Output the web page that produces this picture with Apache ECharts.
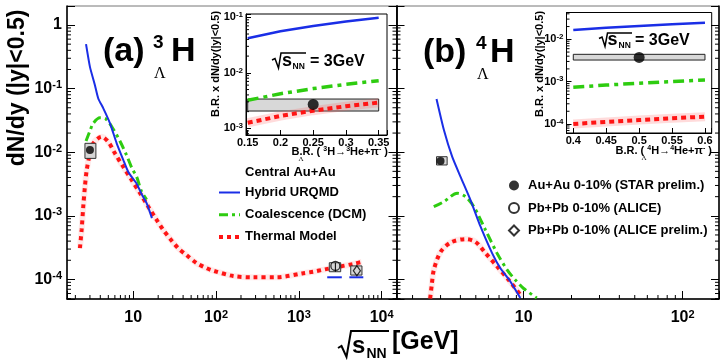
<!DOCTYPE html>
<html><head><meta charset="utf-8">
<script src="https://cdn.jsdelivr.net/npm/echarts@6/dist/echarts.min.js"></script>
<style>html,body{margin:0;padding:0;background:#fff}#c{width:722px;height:361px}</style>
</head><body><div id="c"></div>
<script>
// ---------------- DATA ----------------
// (a) hypertriton 3ΛH, central Au+Au, sqrt(s_NN) [GeV] vs dN/dy
const a_urqmd_s    = [2.69, 3.0, 3.44, 3.78, 4.35, 5.24, 6.31, 7.57, 8.71, 11.0, 12.6, 14.5, 16.8];
const a_urqmd_dndy = [0.50, 0.22, 0.114, 0.070, 0.049, 0.0285, 0.0138, 0.0076, 0.0049, 0.0032, 0.0022, 0.00158, 0.00092];
const a_urqmdLHC1_s = [2200, 3300];
const a_urqmdLHC2_s = [4070, 6000];
const a_urqmdLHC_dndy = [1.08e-4, 1.08e-4];
const a_dcm_s    = [2.69, 3.0, 3.29, 3.96, 4.68, 5.73, 6.9, 8.3, 9.65, 11.0, 12.6, 14.5];
const a_dcm_dndy = [0.015, 0.0216, 0.0285, 0.0348, 0.0333, 0.0232, 0.015, 0.0090, 0.0056, 0.0041, 0.0024, 0.0018];
const a_th_s    = [2.27, 2.38, 2.49, 2.61, 2.74, 3.0, 3.29, 4.15, 4.99, 6.01, 7.57, 9.57, 12.1, 15.2, 19.2, 23.0, 27.7, 34.9, 44.1, 58.3, 76.9, 92.5, 161, 281, 539, 1130, 1490, 2070, 2860, 4540, 5730];
const a_th_dndy = [3.1e-4, 6.0e-4, 1.39e-3, 2.9e-3, 5.2e-3, 9.6e-3, 1.38e-2, 1.75e-2, 1.46e-2, 9.6e-3, 5.9e-3, 3.66e-3, 2.26e-3, 1.39e-3, 8.6e-4, 6.0e-4, 4.4e-4, 3.1e-4, 2.4e-4, 1.8e-4, 1.5e-4, 1.37e-4, 1.13e-4, 1.08e-4, 1.08e-4, 1.25e-4, 1.32e-4, 1.44e-4, 1.56e-4, 1.75e-4, 1.88e-4];
const a_star  = [3.0, 0.0108];            // sqrt(s), dN/dy
const a_starSys = [2.61, 3.54, 0.0080, 0.0138]; // x lo, x hi, y lo, y hi
const a_alice = [2760, 1.63e-4];
const a_aliceSys = [2330, 3200, 1.32e-4, 1.83e-4];
const a_alicePre = [5020, 1.37e-4];
const a_alicePreSys = [4230, 5780, 1.17e-4, 1.63e-4];

// (b) 4ΛH
const b_urqmd_s    = [2.83, 3.15, 3.55, 4.01, 4.63, 5.35, 6.34, 7.14, 8.26, 9.53];
const b_urqmd_dndy = [0.0686, 0.0223, 0.0085, 0.0041, 0.00177, 6.8e-4, 2.57e-4, 1.5e-4, 9.2e-5, 5.1e-5];
const b_dcm_s    = [2.72, 3.15, 3.82, 4.31, 4.86, 5.75, 6.81, 7.87, 8.87, 10.0, 12.1];
const b_dcm_dndy = [0.00139, 0.00167, 0.00226, 0.0020, 0.00139, 6.0e-4, 2.57e-4, 1.41e-4, 9.8e-5, 7.2e-5, 5.1e-5];
const b_th_s    = [2.58, 2.64, 2.72, 3.0, 3.47, 4.31, 4.97, 5.75, 6.81, 8.05, 9.77];
const b_th_dndy = [5.0e-5, 8.1e-5, 1.4e-4, 2.7e-4, 3.8e-4, 4.3e-4, 3.9e-4, 2.6e-4, 1.6e-4, 9.8e-5, 5.3e-5];
const b_star = [3.0, 0.00728];
const b_starSys = [2.83, 3.3, 0.0063, 0.0085];

// insets: B.R. vs B.R. x dN/dy at 3 GeV
const ia_br      = [0.15, 0.20, 0.25, 0.30, 0.35];
const ia_urqmd   = [0.042, 0.056, 0.070, 0.084, 0.098];
const ia_dcm     = [0.0032, 0.0042, 0.0052, 0.0062, 0.0072];
const ia_th      = [0.00126, 0.00167, 0.00208, 0.0025, 0.0029];
const ia_band    = [0.15, 0.35, 0.00205, 0.00337];
const ia_star    = [0.25, 0.0027];
const ib_br      = [0.40, 0.45, 0.50, 0.55, 0.60];
const ib_urqmd   = [0.0166, 0.0187, 0.0207, 0.0228, 0.0247];
const ib_dcm     = [7.4e-4, 8.3e-4, 9.2e-4, 1.01e-3, 1.1e-3];
const ib_th      = [1.0e-4, 1.12e-4, 1.24e-4, 1.37e-4, 1.49e-4];
const ib_band    = [0.40, 0.60, 0.00324, 0.00442];
const ib_star    = [0.50, 0.00374];

// ---------------- STYLE / HELPERS ----------------
const FF = '"Liberation Sans", Arial, Helvetica, sans-serif';
const FSERIF = '"Liberation Serif", "DejaVu Serif", serif';
const BLUE = '#1a2ee6', GREEN = '#2ecc10', RED = '#ff1414', PINK = 'rgba(255,90,90,0.13)', PINKI = 'rgba(255,90,90,0.22)';
const lg = Math.log10;
const pLog = (xs, ys) => xs.map((x, i) => [lg(x), lg(ys[i])]);
const pLin = (xs, ys) => xs.map((x, i) => [x, lg(ys[i])]);
const R = {x0:[0.2,4.179], x1:[0.2,2.229], y:[-4.308,0.299], xa:[0.1474,0.3627], ya:[-3.12,-0.9405], xb:[0.3897,0.6102], yb:[-4.2125,-1.367]};

function logMinor(lo, hi){ const out=[]; for(let n=Math.floor(lo)-1;n<=Math.ceil(hi);n++){ for(let k=2;k<=9;k++){ const v=n+lg(k); if(v>lo+1e-6&&v<hi-1e-6) out.push(v);} } return out; }
function fmtLog(v){ const r=Math.round(v); if(Math.abs(v-r)>1e-6) return ''; if(r===0) return '{b|1}'; if(r===1) return '{b|10}'; return '{b|10}{s|'+(r<0?'-':'')+Math.abs(r)+'}'; }
function fmtLin(v){ if(Math.abs(v*20-Math.round(v*20))>1e-6) return ''; return String(+v.toFixed(2)); }
function rich(bs, ss){ return { b:{fontFamily:FF,fontWeight:'bold',fontSize:bs,color:'#000',lineHeight:bs+2}, s:{fontFamily:FF,fontWeight:'bold',fontSize:ss,color:'#000',lineHeight:Math.round(bs*0.35),verticalAlign:'top'} }; }

function line(name, xi, yi, data, color, width, type, z, smooth){
  return {type:'line', name, xAxisIndex:xi, yAxisIndex:yi, data, symbol:'none', smooth: smooth||0, z:z||3, silent:true, clip:true,
    lineStyle:{color, width, type:type||'solid', cap:'butt'}, itemStyle:{color}};
}
function ticks(xi, yi, dir, vals, anchor, len){
  return {type:'custom', xAxisIndex:xi, yAxisIndex:yi, silent:true, z:10, clip:false,
    data: vals.map(v => dir==='b' ? [v, anchor] : [anchor, v]),
    renderItem:(params, api)=>{ const p=api.coord([api.value(0), api.value(1)]); let x2=p[0], y2=p[1];
      if(dir==='b') y2-=len; else if(dir==='l') x2+=len; else x2-=len;
      return {type:'line', shape:{x1:p[0],y1:p[1],x2,y2}, style:{stroke:'#000',lineWidth:1}}; }};
}
function boxes(xi, yi, data, style, z){
  return {type:'custom', xAxisIndex:xi, yAxisIndex:yi, silent:true, z, data, encode:{x:[0,1], y:[2,3]},
    renderItem:(params, api)=>{ const p1=api.coord([api.value(0),api.value(3)]), p2=api.coord([api.value(1),api.value(2)]);
      return {type:'rect', shape:{x:p1[0],y:p1[1],width:p2[0]-p1[0],height:p2[1]-p1[1]}, style}; }};
}
const boxLog = b => [lg(b[0]), lg(b[1]), lg(b[2]), lg(b[3])];
const boxLin = b => [b[0], b[1], lg(b[2]), lg(b[3])];
const SYS = {fill:'#d6d6d6', stroke:'#333', lineWidth:1};

function xAx(grid, r, split, lab){
  return {gridIndex:grid, type:'value', min:r[0], max:r[1], splitNumber:split, splitLine:{show:false},
    axisLine:{onZero:false, lineStyle:{color:'#000', width:lab.w||1.5}}, axisTick:{inside:true, length:lab.tl, lineStyle:{color:'#000'}},
    axisLabel:{interval:0, formatter:lab.f, rich:lab.rich, margin:lab.m, fontFamily:FF, fontWeight:'bold', fontSize:lab.fs, color:'#000', hideOverlap:false}};
}
function yAx(grid, r, split, pos, lab){
  return {gridIndex:grid, type:'value', position:pos, min:r[0], max:r[1], splitNumber:split, splitLine:{show:false},
    axisLine:{show:true, onZero:false, lineStyle:{color:'#000', width:lab.w||1.5}}, axisTick:{inside:true, length:lab.tl, lineStyle:{color:'#000'}},
    axisLabel:{show:!!lab.f, interval:0, formatter:lab.f, rich:lab.rich, margin:lab.m, fontFamily:FF, fontWeight:'bold', fontSize:lab.fs, color:'#000', hideOverlap:false}};
}

const mainLab = {f:fmtLog, rich:rich(16,11), m:10, tl:8, fs:16};
const noLab = {tl:8};
const inLabX = {f:fmtLin, m:2, tl:5, fs:11, w:1};
const inLabY = {f:fmtLog, rich:rich(11,8), m:3, tl:5, fs:11, w:1};

const xAxis = [
  xAx(0, R.x0, 4, mainLab),
  xAx(1, R.x1, 2, mainLab),
  xAx(2, R.xa, 4, inLabX),
  xAx(3, R.xb, 4, inLabX)
];
const yAxis = [
  yAx(0, R.y, 5, 'left', {f:fmtLog, rich:rich(16,11), m:5, tl:8, fs:16}),
  yAx(0, R.y, 5, 'right', noLab),
  yAx(1, R.y, 5, 'left', noLab),
  yAx(1, R.y, 5, 'right', noLab),
  yAx(2, R.ya, 2, 'left', inLabY),
  yAx(3, R.yb, 3, 'left', inLabY)
];

const series = [];
// ---- (a) main ----
series.push(line('Thermal Model', 0, 0, pLog(a_th_s, a_th_dndy), RED, 4, [4,4], 3, 0.3));
series.push(line('thband', 0, 0, pLog(a_th_s, a_th_dndy), PINK, 6, 'solid', 2, 0.3));
series.push(line('Coalescence (DCM)', 0, 0, pLog(a_dcm_s, a_dcm_dndy), GREEN, 3, [9,4,3,4], 3, 0.3));
series.push(line('Hybrid URQMD', 0, 0, pLog(a_urqmd_s, a_urqmd_dndy), BLUE, 2, 'solid', 3, 0.2));
series.push(line('Hybrid URQMD', 0, 0, pLog(a_urqmdLHC1_s, a_urqmdLHC_dndy), BLUE, 2, 'solid', 3));
series.push(line('Hybrid URQMD', 0, 0, pLog(a_urqmdLHC2_s, a_urqmdLHC_dndy), BLUE, 2, 'solid', 3));
series.push(boxes(0, 0, [boxLog(a_starSys), boxLog(a_aliceSys), boxLog(a_alicePreSys)], SYS, 4));
series.push(line('err', 0, 0, [[lg(a_alice[0]), lg(a_aliceSys[2])],[lg(a_alice[0]), lg(a_aliceSys[3])]], '#000', 1, 'solid', 5));
series.push({type:'scatter', name:'Au+Au 0-10% (STAR prelim.)', xAxisIndex:0, yAxisIndex:0, data:[[lg(a_star[0]), lg(a_star[1])]], symbol:'circle', symbolSize:8, itemStyle:{color:'#000'}, z:6, silent:true});
series.push({type:'scatter', name:'Pb+Pb 0-10% (ALICE)', xAxisIndex:0, yAxisIndex:0, data:[[lg(a_alice[0]), lg(a_alice[1])]], symbol:'circle', symbolSize:9, itemStyle:{color:'rgba(0,0,0,0)', borderColor:'#000', borderWidth:1.3}, z:6, silent:true});
series.push({type:'scatter', name:'Pb+Pb 0-10% (ALICE prelim.)', xAxisIndex:0, yAxisIndex:0, data:[[lg(a_alicePre[0]), lg(a_alicePre[1])]], symbol:'diamond', symbolSize:[7,10], itemStyle:{color:'rgba(0,0,0,0)', borderColor:'#000', borderWidth:1.3}, z:6, silent:true});
// ---- (b) main ----
series.push(line('thband', 1, 2, pLog(b_th_s, b_th_dndy), PINK, 6, 'solid', 2, 0.3));
series.push(line('Thermal Model', 1, 2, pLog(b_th_s, b_th_dndy), RED, 4, [4,4], 3, 0.3));
series.push(line('Coalescence (DCM)', 1, 2, pLog(b_dcm_s, b_dcm_dndy), GREEN, 3, [9,4,3,4], 3, 0.3));
series.push(line('Hybrid URQMD', 1, 2, pLog(b_urqmd_s, b_urqmd_dndy), BLUE, 2, 'solid', 3, 0.2));
series.push(boxes(1, 2, [boxLog(b_starSys)], SYS, 4));
series.push({type:'scatter', name:'Au+Au 0-10% (STAR prelim.)', xAxisIndex:1, yAxisIndex:2, data:[[lg(b_star[0]), lg(b_star[1])]], symbol:'circle', symbolSize:8, itemStyle:{color:'#000'}, z:6, silent:true});
// ---- insets ----
const IBAND = {fill:'#d8d8d8', stroke:'#222', lineWidth:1};
series.push(boxes(2, 4, [boxLin(ia_band)], IBAND, 3));
series.push(line('thband', 2, 4, pLin(ia_br, ia_th), PINKI, 9, 'solid', 4));
series.push(line('Thermal Model', 2, 4, pLin(ia_br, ia_th), RED, 4, [5,4], 5));
series.push(line('Coalescence (DCM)', 2, 4, pLin(ia_br, ia_dcm), GREEN, 3.5, [11,5,4,5], 5));
series.push(line('Hybrid URQMD', 2, 4, pLin(ia_br, ia_urqmd), BLUE, 2.5, 'solid', 5));
series.push({type:'scatter', name:'Au+Au 0-10% (STAR prelim.)', xAxisIndex:2, yAxisIndex:4, data:[[ia_star[0], lg(ia_star[1])]], symbol:'circle', symbolSize:11, itemStyle:{color:'#000'}, z:6, silent:true});
series.push(boxes(3, 5, [boxLin(ib_band)], IBAND, 3));
series.push(line('thband', 3, 5, pLin(ib_br, ib_th), PINKI, 9, 'solid', 4));
series.push(line('Thermal Model', 3, 5, pLin(ib_br, ib_th), RED, 4, [5,4], 5));
series.push(line('Coalescence (DCM)', 3, 5, pLin(ib_br, ib_dcm), GREEN, 3.5, [11,5,4,5], 5));
series.push(line('Hybrid URQMD', 3, 5, pLin(ib_br, ib_urqmd), BLUE, 2.5, 'solid', 5));
series.push({type:'scatter', name:'Au+Au 0-10% (STAR prelim.)', xAxisIndex:3, yAxisIndex:5, data:[[ib_star[0], lg(ib_star[1])]], symbol:'circle', symbolSize:11, itemStyle:{color:'#000'}, z:6, silent:true});
// ---- minor ticks ----
series.push(ticks(0, 0, 'b', logMinor(R.x0[0], R.x0[1]), R.y[0], 4));
series.push(ticks(1, 2, 'b', logMinor(R.x1[0], R.x1[1]), R.y[0], 4));
series.push(ticks(0, 0, 'l', logMinor(R.y[0], R.y[1]), R.x0[0], 4));
series.push(ticks(0, 0, 'r', logMinor(R.y[0], R.y[1]), R.x0[1], 4));
series.push(ticks(1, 2, 'l', logMinor(R.y[0], R.y[1]), R.x1[0], 4));
series.push(ticks(1, 2, 'r', logMinor(R.y[0], R.y[1]), R.x1[1], 4));
series.push(ticks(2, 4, 'l', logMinor(R.ya[0], R.ya[1]), R.xa[0], 3));
series.push(ticks(3, 5, 'l', logMinor(R.yb[0], R.yb[1]), R.xb[0], 3));

// ---------------- TEXT DECORATION ----------------
function T(x, y, text, font, align, extra){ return Object.assign({type:'text', x, y, z:20, silent:true,
  style:Object.assign({text, font, fill:'#000', textAlign:align||'left', align:align||'left', textVerticalAlign:'middle', verticalAlign:'middle'}, extra||{})}); }
const B = s => 'bold '+s+'px '+FF;
const TRICH = {n:{font:B(11),fill:'#000',lineHeight:13}, u:{font:B(7),fill:'#000',lineHeight:4,verticalAlign:'top'}};
const graphic = [
  Object.assign(T(18, 88, 'dN/dy (|y|<0.5)', B(23), 'center'), {rotation:Math.PI/2}),
  // x title
  {type:'polyline', z:20, silent:true, shape:{points:[[338,348],[341.5,346],[346.5,357],[351,331],[389,331]]}, style:{stroke:'#000', lineWidth:2, fill:null}},
  T(352, 346, 's', B(24)), T(366.5, 354, 'NN', B(14)), T(392, 342, '[GeV]', B(25)),
  // panel labels
  T(103, 52, '(a)', B(34)), T(153, 42.5, '3', B(19)), T(171, 52, 'H', B(34)), T(154, 74, 'Λ', '16px '+FSERIF),
  T(423, 53, '(b)', B(34)), T(476, 43.5, '4', B(19)), T(490, 53, 'H', B(34)), T(477, 74.5, 'Λ', '16px '+FSERIF),
  // inset sqrt texts
  {type:'polyline', z:20, silent:true, shape:{points:[[272,60],[275,58.5],[278.5,68],[281,53],[306,53]]}, style:{stroke:'#000', lineWidth:1.5, fill:null}},
  T(282, 61, 's', B(18)), T(292.5, 66.5, 'NN', B(8.5)), T(310, 62, '= 3GeV', B(16)),
  {type:'polyline', z:20, silent:true, shape:{points:[[599,38.5],[602,37],[605,46.5],[607.5,33],[632,33]]}, style:{stroke:'#000', lineWidth:1.5, fill:null}},
  T(607.5, 40, 's', B(18)), T(618.5, 45.5, 'NN', B(8.5)), T(635, 41, '= 3GeV', B(16)),
  // inset axis titles
  Object.assign(T(216, 64, 'B.R. x dN/dy(|y|<0.5)', B(11), 'center'), {rotation:Math.PI/2}),
  Object.assign(T(540, 64, 'B.R. x dN/dy(|y|<0.5)', B(11), 'center'), {rotation:Math.PI/2}),
  T(388, 152, '{n|B.R. ( }{u|3}{n|H→}{u|3}{n|He+π}{u|-}{n| )}', B(11), 'right', {rich:TRICH}),
  T(301, 159, 'Λ', '7px '+FSERIF, 'center'),
  T(712, 151, '{n|B.R. ( }{u|4}{n|H→}{u|4}{n|He+π}{u|-}{n| )}', B(11), 'right', {rich:TRICH}),
  T(644, 158, 'Λ', '7px '+FSERIF, 'center'),
  // legend header
  T(245, 172, 'Central Au+Au', B(13))
];

const chart = echarts.init(document.getElementById('c'), null, {renderer:'canvas'});
chart.setOption({
  animation:false,
  backgroundColor:'#fff',
  grid:[
    {left:67, top:6, width:329.5, height:293, show:true, borderColor:'#777', borderWidth:1},
    {left:396.5, top:6, width:323.5, height:293, show:true, borderColor:'#777', borderWidth:1},
    {left:246, top:14, width:141, height:121, show:true, backgroundColor:'#fff', borderColor:'#000', borderWidth:1},
    {left:566.5, top:12.5, width:145.2, height:120.5, show:true, backgroundColor:'#fff', borderColor:'#000', borderWidth:1}
  ],
  xAxis, yAxis, series, graphic,
  legend:[
    {orient:'vertical', left:217, top:186, padding:0, itemWidth:21, itemHeight:14, itemGap:9.2, selectedMode:false,
     data:['Hybrid URQMD','Coalescence (DCM)','Thermal Model'], lineStyle:{width:'inherit'}, itemStyle:{opacity:0},
     textStyle:{fontFamily:FF, fontWeight:'bold', fontSize:13, color:'#000', padding:[0,0,0,0]}},
    {orient:'vertical', left:508, top:179, padding:0, itemWidth:10, itemHeight:10, itemGap:9.5, selectedMode:false,
     data:['Au+Au 0-10% (STAR prelim.)','Pb+Pb 0-10% (ALICE)','Pb+Pb 0-10% (ALICE prelim.)'],
     textStyle:{fontFamily:FF, fontWeight:'bold', fontSize:13, color:'#000', padding:[0,0,0,4]}}
  ]
});
</script></body></html>
